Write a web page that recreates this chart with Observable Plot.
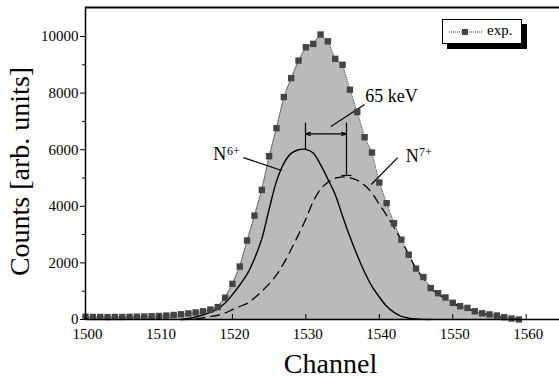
<!DOCTYPE html>
<html><head><meta charset="utf-8">
<script src="https://cdn.jsdelivr.net/npm/d3@7"></script>
<script src="https://cdn.jsdelivr.net/npm/@observablehq/plot@0.6"></script>
<style>
html,body{margin:0;padding:0;background:#fff;}
#wrap{position:relative;width:559px;height:378px;}
.legend{position:absolute;left:442px;top:19px;width:78px;height:23px;border:1px solid #000;background:#fff;box-shadow:5px 5px 0 #000;font-family:"Liberation Serif",serif;font-size:15px;}
.legend svg{position:absolute;left:0;top:0;}
.legend span{position:absolute;left:44px;top:2px;}
</style></head><body><div id="wrap"></div>
<script>
// experimental spectrum (channel, counts)
const channels = [1500,1501,1502,1503,1504,1505,1506,1507,1508,1509,1510,1511,1512,1513,1514,1515,1516,1517,1518,1519,1520,1521,1522,1523,1524,1525,1526,1527,1528,1529,1530,1531,1532,1533,1534,1535,1536,1537,1538,1539,1540,1541,1542,1543,1544,1545,1546,1547,1548,1549,1550,1551,1552,1553,1554,1555,1556,1557,1558,1559];
const counts = [100,90,90,85,90,90,95,100,105,115,125,140,160,185,215,250,290,350,440,770,1260,1870,2790,3670,4580,5770,6760,7860,8530,9150,9620,9740,10070,9830,9210,9000,8120,7330,6440,5900,4840,4110,3400,2820,2290,1800,1500,1110,930,780,590,470,410,290,220,180,140,80,35,0];
// N6+ component (solid)
const n6Channels = [1513,1514,1515,1516,1517,1518,1519,1520,1521,1522,1523,1524,1525,1526,1527,1528,1529,1530,1531,1532,1533,1534,1535,1536,1537,1538,1539,1540,1541,1542,1543,1544,1545,1546,1547];
const n6Counts = [0,40,90,160,250,370,580,880,1220,1600,2150,2850,3900,4880,5520,5870,6000,6010,5880,5470,4960,4410,3650,2920,2260,1670,1170,795,468,250,110,50,20,5,0];
// N7+ component (dashed)
const n7Channels = [1513,1514,1515,1516,1517,1518,1519,1520,1521,1522,1523,1524,1525,1526,1527,1528,1529,1530,1531,1532,1533,1534,1535,1536,1537,1538,1539,1540,1541,1542,1543,1544,1545,1546,1547,1548,1549,1550,1551,1552,1553,1554,1555,1556,1557,1558,1559];
const n7Counts = [0,5,20,60,100,150,230,350,460,570,760,1000,1260,1580,1990,2480,3000,3550,4170,4600,4850,4990,5040,5010,4920,4740,4470,4070,3680,3260,2800,2290,1800,1450,1110,900,740,580,460,380,290,220,160,110,70,35,10];

const xTicks = [1500,1510,1520,1530,1540,1550,1560];
const yTicks = [0,2000,4000,6000,8000,10000];
const yMinorTicks = [1000,3000,5000,7000,9000];

// annotation geometry in data units
const leaderLines = [
  {x1:1521.5, y1:5720, x2:1526.7, y2:5265},
  {x1:1538.0, y1:7600, x2:1533.4, y2:6820},
  {x1:1542.5, y1:5720, x2:1538.9, y2:4770}
];
const markerLines = [
  {x1:1529.95, y1:6007, x2:1529.95, y2:6960},
  {x1:1535.53, y1:5090, x2:1535.53, y2:6960},
  {x1:1534.85, y1:5090, x2:1536.21, y2:5090}
];
const arrowLines = [
  {x1:1532.74, y1:6560, x2:1529.95, y2:6560},
  {x1:1532.74, y1:6560, x2:1535.53, y2:6560}
];
const mainLabels = [
  {x:1517.4, y:5636, text:"N"},
  {x:1538.1, y:7686, text:"65 keV"},
  {x:1543.6, y:5583, text:"N"}
];
const supLabels = [
  {x:1519.25, y:5800, text:"6+"},
  {x:1545.4, y:5760, text:"7+"}
];

const expData = channels.map((c, i) => ({c, v: counts[i]}));
const n6Data = n6Channels.map((c, i) => ({c, v: n6Counts[i]}));
const n7Data = n7Channels.map((c, i) => ({c, v: n7Counts[i]}));

const chart = Plot.plot({
  width: 559, height: 378,
  marginTop: 7, marginBottom: 59, marginLeft: 85, marginRight: 0,
  style: {fontFamily: '"Liberation Serif", serif', fontSize: "15px", background: "#fff", color: "#000"},
  x: {domain: [1500, 1564.53], axis: null, label: null},
  y: {domain: [0, 11025], axis: null, label: null},
  marks: [
    Plot.areaY(expData, {x: "c", y: "v", fill: "#bababa"}),
    Plot.line(expData, {x: "c", y: "v", stroke: "#333", strokeWidth: 0.8, strokeDasharray: "1,1.5"}),
    Plot.line(n6Data, {x: "c", y: "v", curve: "catmull-rom", stroke: "#000", strokeWidth: 1.4}),
    Plot.line(n7Data, {x: "c", y: "v", curve: "catmull-rom", stroke: "#000", strokeWidth: 1.3, strokeDasharray: "9,6"}),
    Plot.link(leaderLines, {x1: "x1", y1: "y1", x2: "x2", y2: "y2", stroke: "#000", strokeWidth: 1.2}),
    Plot.link(markerLines, {x1: "x1", y1: "y1", x2: "x2", y2: "y2", stroke: "#000", strokeWidth: 1.2}),
    Plot.arrow(arrowLines, {x1: "x1", y1: "y1", x2: "x2", y2: "y2", stroke: "#000", strokeWidth: 1.1, headLength: 7, headAngle: 35}),
    Plot.text(mainLabels, {x: "x", y: "y", text: "text", fontSize: 18, textAnchor: "start", lineAnchor: "bottom", fill: "#000"}),
    Plot.text(supLabels, {x: "x", y: "y", text: "text", fontSize: 12, textAnchor: "start", lineAnchor: "bottom", fill: "#000"}),
    Plot.dot(expData, {x: "c", y: "v", symbol: "square", r: 3.6, fill: "#444", stroke: "none"}),
    Plot.ruleX(xTicks, {x: d => d, y1: 0, y2: 177, stroke: "#000", strokeWidth: 1}),
    Plot.ruleY([0], {stroke: "#000", strokeWidth: 1.5}),
    Plot.ruleY([11025], {stroke: "#000", strokeWidth: 2}),
    Plot.ruleX([1500], {stroke: "#000", strokeWidth: 1.5}),
    Plot.axisX({ticks: xTicks, tickSize: 0, tickPadding: 9, tickFormat: "d", dx: 2, label: null}),
    Plot.axisY({ticks: yTicks, tickSize: 5, tickPadding: 2, tickFormat: "d", label: null}),
    Plot.axisY({ticks: yMinorTicks, tickSize: 3, tickFormat: () => "", label: null}),
    Plot.text(["Channel"], {frameAnchor: "bottom", dx: 8, dy: 53, lineAnchor: "bottom", fontSize: 28, fill: "#000"}),
    Plot.text(["Counts [arb. units]"], {frameAnchor: "left", rotate: -90, dx: -57, dy: 8, lineAnchor: "bottom", textAnchor: "middle", fontSize: 28, fill: "#000"})
  ]
});
const wrap = document.getElementById("wrap");
wrap.appendChild(chart);
const legend = document.createElement("div");
legend.className = "legend";
legend.innerHTML = '<svg width="44" height="23"><line x1="6" x2="40" y1="12" y2="12" stroke="#000" stroke-width="0.8" stroke-dasharray="1,1"/><rect x="19" y="9" width="6" height="6" fill="#444"/></svg><span>exp.</span>';
wrap.appendChild(legend);
</script>
</body></html>
